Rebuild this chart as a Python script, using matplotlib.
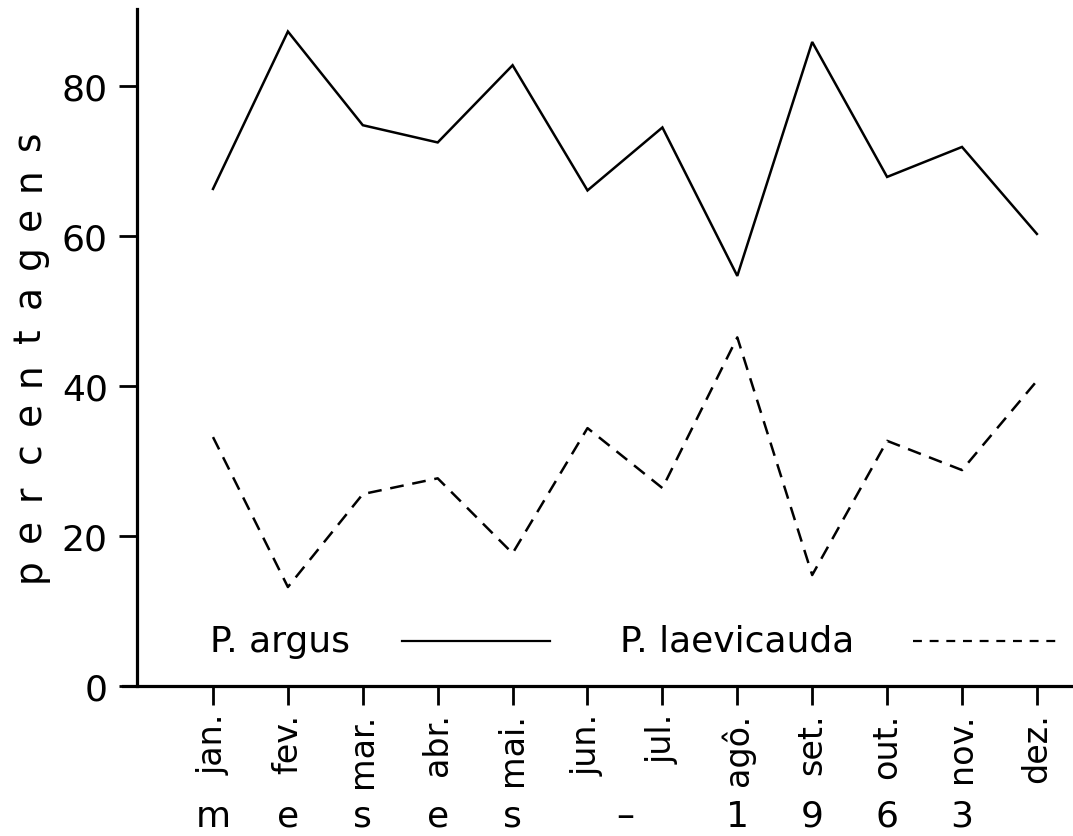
import matplotlib
matplotlib.use("Agg")
import matplotlib.pyplot as plt
from matplotlib.lines import Line2D
import matplotlib.transforms as mtrans
import numpy as np

months = ["jan.", "fev.", "mar.", "abr.", "mai.", "jun.", "jul.", "agô.", "set.", "out.", "nov.", "dez."]
argus = [66.3, 87.3, 74.8, 72.5, 82.8, 66.1, 74.5, 54.7, 85.9, 67.9, 71.9, 60.3]
laevicauda = [33.2, 13.2, 25.6, 27.7, 17.7, 34.4, 26.4, 46.5, 14.8, 32.7, 28.8, 40.7]
yticks = [0, 20, 40, 60, 80]
ylabel_text = "percentagens"
xlabel_chars = ["m", "e", "s", "e", "s", "–", "1", "9", "6", "3"]
xlabel_pos = [0, 1, 2, 3, 4, 5.5, 7, 8, 9, 10]
legend_names = ["P. argus", "P. laevicauda"]

W, H = 1073, 837
fig = plt.figure(figsize=(W / 100, H / 100), dpi=100)
ax = fig.add_axes([123 / W, (H - 687) / H, 950 / W, 677 / H])

x = np.arange(len(months))
ax.plot(x, argus, color="black", lw=1.8, solid_joinstyle="miter")
ax.plot(x, laevicauda, color="black", lw=1.8, dashes=(5.5, 3.5))

ax.set_xlim(-1.2016, 11.482)
ax.set_ylim(0, 90.3)

for s in ["top", "right"]:
    ax.spines[s].set_visible(False)
ax.spines["left"].set_position(("data", -1.0147))
ax.spines["left"].set_linewidth(2.3)
ax.spines["bottom"].set_linewidth(2.3)

ax.set_yticks(yticks)
ax.set_yticklabels([str(v) for v in yticks], fontsize=26)
ax.set_xticks(x)
ax.set_xticklabels(months, rotation=90, fontsize=24, va="top", ha="center")
ax.tick_params(axis="y", direction="out", length=13, width=2, pad=8)
ax.tick_params(axis="x", direction="out", length=14, width=2, pad=5)

# y label, letter spaced
n = len(ylabel_text)
ys = np.linspace(570, 140, n)
for ch, yy in zip(ylabel_text, ys):
    fig.text(30 / W, 1 - yy / H, ch, rotation=90, fontsize=27, ha="center", va="center")

# bottom label
trans = mtrans.blended_transform_factory(ax.transData, fig.transFigure)
for ch, xp in zip(xlabel_chars, xlabel_pos):
    ax.text(xp, 1 - 817 / H, ch, transform=trans, fontsize=26, ha="center", va="center", clip_on=False)

# legend drawn manually
ly = 1 - 642 / H
fig.text(210 / W, ly, legend_names[0], fontsize=26, ha="left", va="center")
fig.add_artist(Line2D([402 / W, 550 / W], [ly, ly], color="black", lw=1.6))
fig.text(620 / W, ly, legend_names[1], fontsize=26, ha="left", va="center")
fig.add_artist(Line2D([913 / W, 1060 / W], [ly, ly], color="black", lw=1.6, dashes=(4, 3.5)))

fig.savefig("out.png", dpi=100)
